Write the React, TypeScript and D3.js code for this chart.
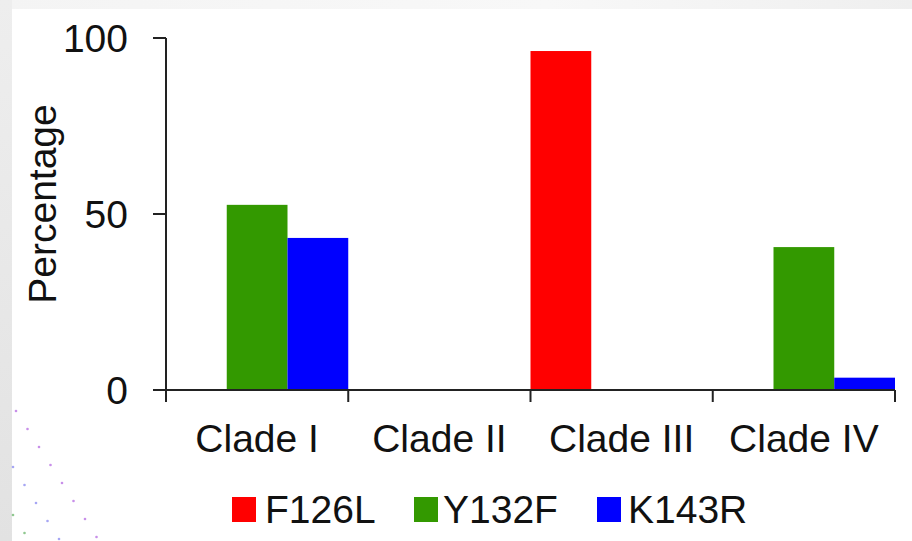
import React from "react";
import * as d3 from "d3";

const categories = ["Clade I", "Clade II", "Clade III", "Clade IV"];
const seriesNames = ["F126L", "Y132F", "K143R"];
const seriesColors = ["#ff0000", "#339900", "#0000ff"];
const F126L = [0, 0, 96.3, 0];
const Y132F = [52.6, 0, 0, 40.6];
const K143R = [43.2, 0, 0, 3.5];
const seriesValues = [F126L, Y132F, K143R];
const yTicks = [0, 50, 100];

const W = 912;
const H = 541;
const FONT = "'Liberation Sans', Arial, Helvetica, sans-serif";
const FS = 39;

export default function App() {
  const x0 = 166, x1 = 895, yTop = 38, yBot = 390;
  const x = d3.scaleBand<string>().domain(categories).range([x0, x1]).padding(0);
  const xs = d3.scaleBand<string>().domain(seriesNames).range([0, x.bandwidth()]).padding(0);
  const y = d3.scaleLinear().domain([0, 100]).range([yBot, yTop]);

  const dots: { cx: number; cy: number; c: string }[] = [];
  const rows = [
    { sx: 16, sy: 411, n: 8, c: "#b060e0" },
    { sx: 13, sy: 467, n: 5, c: "#8080f0" },
    { sx: 13, sy: 515, n: 2, c: "#60b060" },
  ];
  rows.forEach((r) => {
    for (let i = 0; i < r.n; i++) dots.push({ cx: r.sx + i * 11.5, cy: r.sy + i * 18, c: r.c });
  });

  const legendItems = [
    { sq: 232, tx: 265 },
    { sq: 414, tx: 443 },
    { sq: 597, tx: 628 },
  ];

  return (
    <div style={{ position: "absolute", left: 0, top: 0 }}>
      <svg width={W} height={H} style={{ display: "block" }}>
        <defs>
          <linearGradient id="topg" x1="0" x2="1" y1="0" y2="0">
            <stop offset="0" stopColor="#f4f4f4" />
            <stop offset="0.6" stopColor="#f8f8f8" />
            <stop offset="1" stopColor="#efefef" />
          </linearGradient>
          <linearGradient id="leftg" x1="0" x2="0" y1="0" y2="1">
            <stop offset="0" stopColor="#eeeeee" />
            <stop offset="1" stopColor="#e2e2e2" />
          </linearGradient>
        </defs>
        <rect x={0} y={0} width={W} height={H} fill="#ffffff" />
        <rect x={0} y={0} width={W} height={9} fill="url(#topg)" />
        <rect x={0} y={0} width={12} height={H} fill="url(#leftg)" />
        {dots.map((d, i) => (
          <circle key={i} cx={d.cx} cy={d.cy} r={1.3} fill={d.c} opacity={0.7} />
        ))}

        {/* bars */}
        {categories.map((cat, ci) => (
          <g key={cat} transform={`translate(${x(cat)},0)`}>
            {seriesNames.map((s, si) => {
              const v = seriesValues[si][ci];
              if (v <= 0) return null;
              return (
                <rect
                  key={s}
                  x={xs(s)}
                  y={y(v)}
                  width={xs.bandwidth()}
                  height={y(0) - y(v)}
                  fill={seriesColors[si]}
                />
              );
            })}
          </g>
        ))}

        {/* y axis */}
        <line x1={x0} x2={x0} y1={yTop} y2={yBot + 12} stroke="#222" strokeWidth={2} />
        {yTicks.map((t) => (
          <g key={t}>
            <line x1={x0 - 13} x2={x0} y1={y(t)} y2={y(t)} stroke="#222" strokeWidth={2} />
            <text
              x={128}
              y={y(t)}
              dy="0.36em"
              textAnchor="end"
              fontFamily={FONT}
              fontSize={FS}
              fill="#111"
            >
              {t}
            </text>
          </g>
        ))}
        <text
          transform={`translate(56,204) rotate(-90)`}
          textAnchor="middle"
          fontFamily={FONT}
          fontSize={FS}
          fill="#111"
        >
          Percentage
        </text>

        {/* x axis */}
        <line x1={x0} x2={x1} y1={yBot} y2={yBot} stroke="#222" strokeWidth={2} />
        {[...categories.map((c) => x(c) as number), x1].map((tx, i) => (
          <line key={i} x1={tx} x2={tx} y1={yBot} y2={yBot + 12} stroke="#222" strokeWidth={2} />
        ))}
        {categories.map((c) => (
          <text
            key={c}
            x={(x(c) as number) + x.bandwidth() / 2}
            y={452}
            textAnchor="middle"
            fontFamily={FONT}
            fontSize={FS}
            fill="#111"
          >
            {c}
          </text>
        ))}

        {/* legend */}
        {seriesNames.map((s, i) => (
          <g key={s}>
            <rect x={legendItems[i].sq} y={497} width={24} height={25} fill={seriesColors[i]} />
            <text x={legendItems[i].tx} y={523} fontFamily={FONT} fontSize={FS} fill="#111">
              {s}
            </text>
          </g>
        ))}
      </svg>
    </div>
  );
}
